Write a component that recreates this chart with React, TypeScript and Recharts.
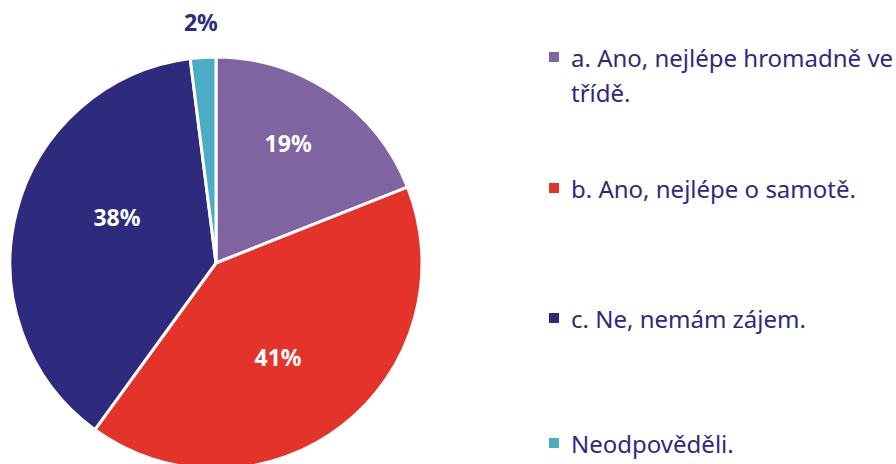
import { PieChart, Pie, Cell, Legend } from 'recharts'

const categories = ['a. Ano, nejlépe hromadně ve třídě.', 'b. Ano, nejlépe o samotě.', 'c. Ne, nemám zájem.', 'Neodpověděli.']
const legendLines = [['a. Ano, nejlépe hromadně ve', 'třídě.'], ['b. Ano, nejlépe o samotě.'], ['c. Ne, nemám zájem.'], ['Neodpověděli.']]
const values = [19, 41, 38, 2]
const colors = ['#8064a2', '#e4332a', '#2e2a7e', '#4bacc6']
// label placement relative to slice middle (Excel "best fit" look)
const labelRadius = [0.68, 0.547, 0.53, 1.17]
const labelAngleShift = [3.2, -4.4, -10.5, 0]
const legendTops = [0, 131, 261, 386]

const NAVY = '#2e2a7e'
const FONT = '"Noto Sans", "Open Sans", sans-serif'

const data = categories.map((name, i) => ({ name, value: values[i] }))

const RADIAN = Math.PI / 180

function renderLabel(props: any) {
  const { cx, cy, midAngle, outerRadius, index, value } = props
  const r = outerRadius * labelRadius[index]
  const a = (midAngle + labelAngleShift[index]) * RADIAN
  const x = cx + r * Math.cos(-a)
  const y = cy + r * Math.sin(-a)
  return (
    <text
      x={x}
      y={y}
      fill={index === 3 ? NAVY : '#ffffff'}
      textAnchor="middle"
      dominantBaseline="central"
      fontFamily={FONT}
      fontWeight="bold"
      fontSize={23}
    >
      {`${value}%`}
    </text>
  )
}

function renderLegend() {
  return (
    <div style={{ fontFamily: FONT, fontSize: 24, color: NAVY }}>
      {legendLines.map((lines, i) => (
        <div key={i} style={{ position: 'absolute', left: 0, top: legendTops[i], display: 'flex', whiteSpace: 'nowrap' }}>
          <span style={{ width: 10, height: 10, background: colors[i], marginTop: 12, marginRight: 12, flexShrink: 0 }} />
          <div style={{ lineHeight: '35px' }}>
            {lines.map((l, j) => (
              <div key={j}>{l}</div>
            ))}
          </div>
        </div>
      ))}
    </div>
  )
}

export default function App() {
  return (
    <div style={{ position: 'absolute', left: 0, top: 0, width: 896, height: 464, overflow: 'hidden', background: '#ffffff' }}>
      <PieChart width={896} height={464} margin={{ top: 0, right: 0, bottom: 0, left: 0 }}>
        <Pie
          data={data}
          dataKey="value"
          cx={216}
          cy={263}
          outerRadius={206}
          startAngle={90}
          endAngle={-270}
          stroke="#ffffff"
          strokeWidth={3}
          label={renderLabel}
          labelLine={false}
          isAnimationActive={false}
        >
          {data.map((d, i) => (
            <Cell key={d.name} fill={colors[i]} />
          ))}
        </Pie>
        <Legend
          content={renderLegend}
          wrapperStyle={{ position: 'absolute', left: 549, top: 40, width: 347 }}
        />
      </PieChart>
    </div>
  )
}
